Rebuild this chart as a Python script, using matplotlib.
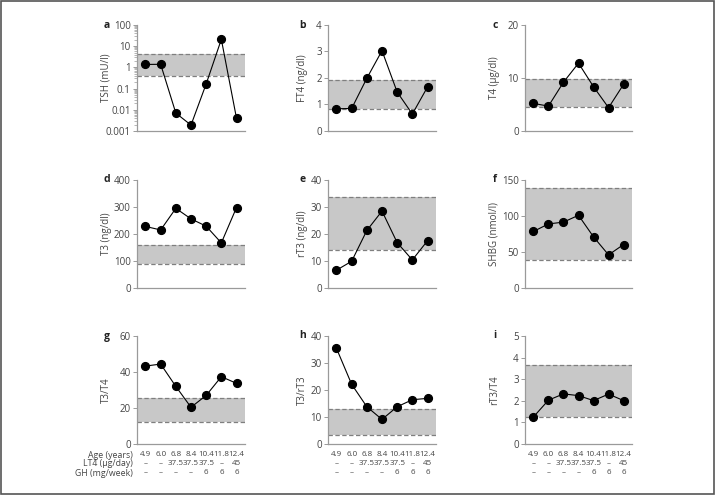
import matplotlib
matplotlib.use("Agg")
import matplotlib.pyplot as plt
from matplotlib.ticker import LogLocator, NullFormatter, FixedLocator, FixedFormatter
from matplotlib.patches import Rectangle
import matplotlib.transforms as mtransforms

plt.rcParams['font.family'] = ['Open Sans', 'DejaVu Sans']

ages = ["4.9", "6.0", "6.8", "8.4", "10.4", "11.8", "12.4"]
lt4 = ["\u2013", "\u2013", "37.5", "37.5", "37.5", "\u2013", "45"]
gh = ["\u2013", "\u2013", "\u2013", "\u2013", "6", "6", "6"]
row_labels = ["Age (years)", "LT4 (\u00b5g/day)", "GH (mg/week)"]

tsh = [1.38, 1.4, 0.007, 0.0019, 0.166, 21, 0.004]
ft4 = [0.84, 0.85, 1.99, 3.03, 1.47, 0.64, 1.66]
t4 = [5.2, 4.7, 9.2, 12.8, 8.35, 4.4, 8.8]
t3 = [228, 215, 295, 256, 229, 167, 298]
rt3 = [6.6, 9.9, 21.3, 28.5, 16.8, 10.4, 17.5]
shbg = [78.5, 89, 91.5, 101, 71, 46, 60.4]
t3_t4 = [43.3, 44.4, 32, 20.4, 27, 37.4, 33.7]
t3_rt3 = [35.4, 22.1, 13.8, 9.1, 13.8, 16.4, 16.9]
rt3_t4 = [1.25, 2.03, 2.32, 2.24, 2.01, 2.31, 2.01]

panels = [
    dict(letter="a", ylabel="TSH (mU/l)", values=tsh, band=(0.39, 4.5), ylim=(0.001, 100),
         yticks=[0.001, 0.01, 0.1, 1, 10, 100], ytl=["0.001", "0.01", "0.1", "1", "10", "100"], log=True),
    dict(letter="b", ylabel="FT4 (ng/dl)", values=ft4, band=(0.83, 1.93), ylim=(0, 4),
         yticks=[0, 1, 2, 3, 4], ytl=["0", "1", "2", "3", "4"], log=False),
    dict(letter="c", ylabel="T4 (\u00b5g/dl)", values=t4, band=(4.55, 9.9), ylim=(0, 20),
         yticks=[0, 10, 20], ytl=["0", "10", "20"], log=False),
    dict(letter="d", ylabel="T3 (ng/dl)", values=t3, band=(90, 161), ylim=(0, 400),
         yticks=[0, 100, 200, 300, 400], ytl=["0", "100", "200", "300", "400"], log=False),
    dict(letter="e", ylabel="rT3 (ng/dl)", values=rt3, band=(14.0, 33.8), ylim=(0, 40),
         yticks=[0, 10, 20, 30, 40], ytl=["0", "10", "20", "30", "40"], log=False),
    dict(letter="f", ylabel="SHBG (nmol/l)", values=shbg, band=(39.5, 139), ylim=(0, 150),
         yticks=[0, 50, 100, 150], ytl=["0", "50", "100", "150"], log=False),
    dict(letter="g", ylabel="T3/T4", values=t3_t4, band=(12.0, 25.4), ylim=(0, 60),
         yticks=[0, 20, 40, 60], ytl=["0", "20", "40", "60"], log=False),
    dict(letter="h", ylabel="T3/rT3", values=t3_rt3, band=(3.2, 13.0), ylim=(0, 40),
         yticks=[0, 10, 20, 30, 40], ytl=["0", "10", "20", "30", "40"], log=False),
    dict(letter="i", ylabel="rT3/T4", values=rt3_t4, band=(1.24, 3.64), ylim=(0, 5),
         yticks=[0, 1, 2, 3, 4, 5], ytl=["0", "1", "2", "3", "4", "5"], log=False),
]

W, H = 716, 495
fig = plt.figure(figsize=(W / 100, H / 100), dpi=100)
fig.patch.set_facecolor("white")

cols = [(137, 245), (328, 436), (525, 632)]
rows = [(25, 131), (180, 288), (336, 444)]
letter_x = [107, 303, 495]

TXT = "#444444"
SPINE = "#9a9a9a"
BAND = "#c8c8c8"
DASH = "#7f7f7f"

for k, p in enumerate(panels):
    r, c = divmod(k, 3)
    x0, x1 = cols[c]
    y0, y1 = rows[r]
    ax = fig.add_axes([x0 / W, 1 - y1 / H, (x1 - x0) / W, (y1 - y0) / H])
    xs = list(range(len(p["values"])))
    if p["log"]:
        ax.set_yscale("log")
    ax.axhspan(p["band"][0], p["band"][1], color=BAND, lw=0, zorder=0)
    for b in p["band"]:
        ax.axhline(b, color=DASH, lw=0.9, ls=(0, (3.5, 2)), zorder=1)
    ax.plot(xs, p["values"], color="black", lw=0.8, marker="o", ms=5.6,
            mfc="black", mec="black", zorder=3, clip_on=False)
    ax.set_xlim(-0.56, 6.56)
    ax.set_ylim(*p["ylim"])
    ax.yaxis.set_major_locator(FixedLocator(p["yticks"]))
    ax.yaxis.set_major_formatter(FixedFormatter(p["ytl"]))
    if p["log"]:
        ax.yaxis.set_minor_locator(LogLocator(base=10, subs=range(2, 10), numticks=20))
        ax.yaxis.set_minor_formatter(NullFormatter())
        ax.tick_params(axis="y", which="minor", length=2, width=0.5, color=SPINE)
    ax.set_xticks([])
    for s in ["top", "right"]:
        ax.spines[s].set_visible(False)
    for s in ["left", "bottom"]:
        ax.spines[s].set_color(SPINE)
        ax.spines[s].set_linewidth(0.9)
    ax.tick_params(axis="y", which="major", length=3, width=0.7, color=SPINE,
                   labelsize=7, labelcolor=TXT, pad=1.5)
    ax.set_ylabel(p["ylabel"], fontsize=7, color=TXT)
    ax.yaxis.set_label_coords((letter_x[c] + 5 - x0) / (x1 - x0), 0.5)
    fig.text(letter_x[c] / W, 1 - y0 / H, p["letter"], fontsize=7.5, fontweight="bold",
             color="#222222", ha="center", va="center")
    if r == 2:
        trans = mtransforms.blended_transform_factory(ax.transData, ax.transAxes)
        for j, labels in enumerate([ages, lt4, gh]):
            yy = -0.095 - j * 0.085
            for xi, lab in zip(xs, labels):
                ax.text(xi, yy, lab, transform=trans, ha="center", va="center",
                        fontsize=5.8, color=TXT)
            if c == 0:
                fig.text(133 / W, 1 - (455 + j * 9) / H, row_labels[j], ha="right",
                         va="center", fontsize=6.3, color=TXT)

fig.add_artist(Rectangle((0.5 / W, 1.5 / H), 713.5 / W, 492.5 / H, transform=fig.transFigure,
                         fill=False, edgecolor="#555555", lw=1.2))

fig.savefig("out.png", dpi=100)
